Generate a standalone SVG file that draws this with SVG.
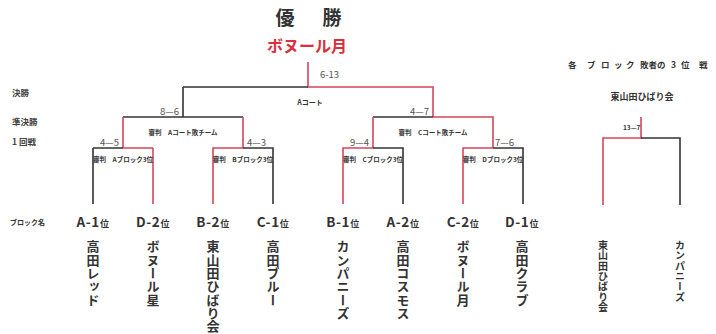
<svg xmlns="http://www.w3.org/2000/svg" width="716" height="334" viewBox="0 0 716 334">
<style>
text{font-family:"Noto Sans CJK JP","Noto Sans",sans-serif;font-weight:bold;fill:#333}
.k{stroke:#333;stroke-width:1.6;fill:none}
.r{stroke:#d6455a;stroke-width:1.6;fill:none}
.sc{font-size:9.5px;font-weight:normal;fill:#555}
.ref{font-size:6.5px;fill:#333}
.rl{font-size:8.5px;fill:#444}
.blk{font-size:13.5px;text-anchor:middle;fill:#333;letter-spacing:0.6px}
.blk tspan.s{font-size:9px}
.tm{font-size:13px;writing-mode:vertical-rl;letter-spacing:0.3px;fill:#333}
.tm3{font-size:10px;writing-mode:vertical-rl;letter-spacing:0.4px;fill:#333}
</style>
<rect width="716" height="334" fill="#fff"/>
<g id="title">
<text font-size="19" text-anchor="middle" y="25"><tspan x="285">優</tspan><tspan x="332">勝</tspan></text>
</g>
<g id="champion">
<text font-size="16" text-anchor="middle" x="307" y="52" style="fill:#d8303c">ボヌール月</text>
</g>
<g id="round-labels">
<text class="rl" x="12" y="96">決勝</text>
<text class="rl" x="12" y="125">準決勝</text>
<text class="rl" x="12" y="145">1 回戦</text>
<text x="10" y="225" font-size="7">ブロック名</text>
</g>
<g id="connectors">
<path class="r" d="M308,62V87H433V117"/>
<path class="k" d="M183,87H308M183,87V117"/>
<path class="k" d="M123,117H243"/>
<path class="r" d="M123,117V148M243,117V148"/>
<path class="k" d="M93,148H123M93,148V204"/>
<path class="r" d="M123,148H153M153,148V204"/>
<path class="r" d="M213,204V148H243"/>
<path class="k" d="M243,148H273V204"/>
<path class="k" d="M373,117H433"/>
<path class="r" d="M433,117H493V148M373,117V148"/>
<path class="r" d="M343,204V148H373"/>
<path class="k" d="M373,148H403V204"/>
<path class="r" d="M463,204V148H493"/>
<path class="k" d="M493,148H523V204"/>
<path class="r" d="M641,117V138H603V205"/>
<path class="k" d="M641,138H680V205"/>
</g>
<g id="final">
<text class="sc" x="320" y="78">6-13</text>
<text x="310" y="105" font-size="7" text-anchor="middle">Aコート</text>
</g>
<g id="semi-left">
<text class="sc" x="160" y="115">8—6</text>
<text class="ref" x="183" y="134.5" text-anchor="middle">審判　Aコート敗チーム</text>
</g>
<g id="semi-right">
<text class="sc" x="410" y="115">4—7</text>
<text class="ref" x="433" y="134.5" text-anchor="middle">審判　Cコート敗チーム</text>
</g>
<g id="r1-a">
<text class="sc" x="100" y="146">4—5</text>
<text class="ref" x="123" y="161.5" text-anchor="middle">審判　Aブロック3位</text>
</g>
<g id="r1-b">
<text class="sc" x="247" y="146">4—3</text>
<text class="ref" x="243" y="161.5" text-anchor="middle">審判　Bブロック3位</text>
</g>
<g id="r1-c">
<text class="sc" x="350" y="146">9—4</text>
<text class="ref" x="373" y="161.5" text-anchor="middle">審判　Cブロック3位</text>
</g>
<g id="r1-d">
<text class="sc" x="495" y="146">7—6</text>
<text class="ref" x="493" y="161.5" text-anchor="middle">審判　Dブロック3位</text>
</g>
<g id="team-a1"><text class="blk" x="93" y="227">A-1<tspan class="s">位</tspan></text><text class="tm" x="93" y="240">高田レッド</text></g>
<g id="team-d2"><text class="blk" x="153" y="227">D-2<tspan class="s">位</tspan></text><text class="tm" x="153" y="240">ボヌール星</text></g>
<g id="team-b2"><text class="blk" x="213" y="227">B-2<tspan class="s">位</tspan></text><text class="tm" x="213" y="240">東山田ひばり会</text></g>
<g id="team-c1"><text class="blk" x="273" y="227">C-1<tspan class="s">位</tspan></text><text class="tm" x="273" y="240">高田ブルー</text></g>
<g id="team-b1"><text class="blk" x="343" y="227">B-1<tspan class="s">位</tspan></text><text class="tm" x="343" y="240">カンパニーズ</text></g>
<g id="team-a2"><text class="blk" x="403" y="227">A-2<tspan class="s">位</tspan></text><text class="tm" x="403" y="240">高田コスモス</text></g>
<g id="team-c2"><text class="blk" x="463" y="227">C-2<tspan class="s">位</tspan></text><text class="tm" x="463" y="240">ボヌール月</text></g>
<g id="team-d1"><text class="blk" x="522" y="227">D-1<tspan class="s">位</tspan></text><text class="tm" x="522" y="240">高田クラブ</text></g>
<g id="third-place">
<text font-size="8.5" y="68"><tspan x="568">各</tspan><tspan x="587">ブ</tspan><tspan x="601">ロ</tspan><tspan x="614">ッ</tspan><tspan x="626">ク</tspan><tspan x="640">敗者の</tspan><tspan x="671">3</tspan><tspan x="681">位</tspan><tspan x="699">戦</tspan></text>
<text font-size="9" x="642" y="100" text-anchor="middle">東山田ひばり会</text>
<text x="623" y="130" font-size="6.5" font-weight="normal">13—7</text>
</g>
<g id="third-team-1"><text class="tm3" x="603" y="240">東山田ひばり会</text></g>
<g id="third-team-2"><text class="tm3" x="680" y="240">カンパニーズ</text></g>
</svg>
